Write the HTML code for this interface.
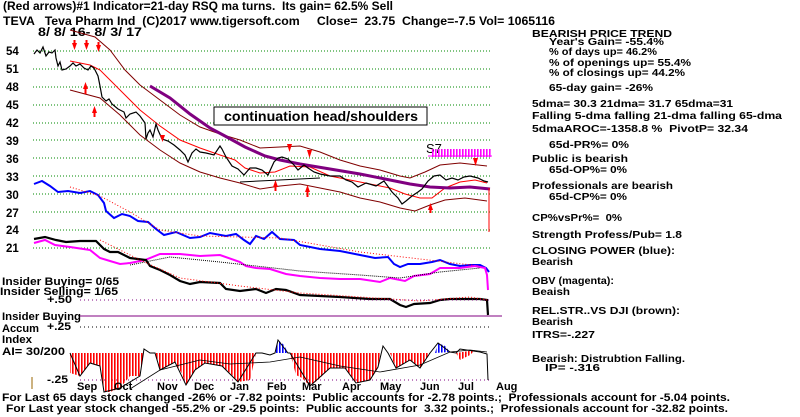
<!DOCTYPE html>
<html><head><meta charset="utf-8"><style>
body{margin:0;background:#fff;}
svg{display:block;font-family:"Liberation Sans",sans-serif;}
text{font-weight:bold;white-space:pre;}
.h{font-size:12px;}
.r{font-size:10.5px;}
.b{font-size:11px;}
</style></head><body>
<svg width="800" height="417" viewBox="0 0 800 417" xmlns="http://www.w3.org/2000/svg" xml:space="preserve">
<defs>
<pattern id="hr" width="3" height="10" patternUnits="userSpaceOnUse"><rect width="1.6" height="10" fill="#f00"/></pattern>
<pattern id="hb" width="3" height="10" patternUnits="userSpaceOnUse"><rect width="1.6" height="10" fill="#00f"/></pattern>
<pattern id="hm" width="3" height="10" patternUnits="userSpaceOnUse"><rect width="1.6" height="10" fill="#f0f"/></pattern>
</defs>
<rect width="800" height="417" fill="#fff"/>
<text x="3" y="10" class="h" textLength="390" lengthAdjust="spacingAndGlyphs">(Red arrows)#1 Indicator=21-day RSQ ma turns.  Its gain= 62.5% Sell</text>
<text x="3" y="25" class="h" textLength="552" lengthAdjust="spacingAndGlyphs">TEVA   Teva Pharm Ind  (C)2017 www.tigersoft.com     Close=  23.75  Change=-7.5 Vol= 1065116</text>
<text x="38" y="36" class="h" textLength="104" lengthAdjust="spacingAndGlyphs">8/ 8/ 16- 8/ 3/ 17</text>
<g font-size="11.5">
<text x="6" y="55">54</text><text x="6" y="73">51</text><text x="6" y="91">48</text><text x="6" y="109">45</text><text x="6" y="127">42</text><text x="6" y="145">39</text><text x="6" y="163">36</text><text x="6" y="181">33</text><text x="6" y="199">30</text><text x="6" y="217">27</text><text x="6" y="234">24</text><text x="6" y="252">21</text>
</g>
<g stroke="#080" stroke-width="1" stroke-dasharray="1,2">
<line x1="33" y1="51" x2="490" y2="51"/><line x1="33" y1="69" x2="490" y2="69"/><line x1="33" y1="87" x2="490" y2="87"/><line x1="33" y1="105" x2="490" y2="105"/><line x1="33" y1="123" x2="490" y2="123"/><line x1="33" y1="140" x2="490" y2="140"/><line x1="33" y1="158" x2="490" y2="158"/><line x1="33" y1="176" x2="490" y2="176"/><line x1="33" y1="194" x2="490" y2="194"/><line x1="33" y1="212" x2="490" y2="212"/><line x1="33" y1="230" x2="490" y2="230"/><line x1="33" y1="248" x2="490" y2="248"/>
</g>
<polyline fill="none" stroke="#800000" stroke-width="1" points="70,30 95,37 110,50 125,70 140,85 160,100 180,115 200,127 220,134 240,140 260,148 280,147 300,146 320,152 340,160 360,166 380,170 400,176 410,178 425,172 440,165 460,163 487,166"/>
<polyline fill="none" stroke="#800000" stroke-width="1" points="70,90 100,98 120,115 140,135 160,150 180,163 200,172 220,178 240,183 260,189 280,186 300,184 320,188 340,192 360,198 380,202 400,208 415,211 430,205 445,200 465,198 487,201"/>
<polyline fill="none" stroke="#f00" stroke-width="1" points="70,61 90,65 100,70 110,80 125,95 140,110 160,126 180,140 200,148 220,155 235,160 245,168 260,173 275,172 290,166 310,167 330,176 350,180 370,184 390,188 405,194 420,198 432,198 445,188 460,182 475,180 487,183"/>
<line x1="240" y1="182" x2="320" y2="178" stroke="#000"/>
<polyline fill="none" stroke="#800080" stroke-width="3" points="150,86 170,98 190,114 210,128 225,136 245,147 265,156 280,160 300,164 330,169 360,174 390,180 410,184 430,187 450,188 470,187 490,189"/>
<polyline fill="none" stroke="#000" stroke-width="1.2" points="34,54 37,50 40,53 43,47 46,56 49,52 52,53 55,50 56,58 58,66 60,62 62,70 66,69 70,66 73,63 76,66 80,64 84,68 88,70 91,66 94,68 98,76 100,86 102,97 106,101 109,99 112,104 118,109 124,112 126,118 130,114 136,112 140,116 145,123 146,139 148,133 150,130 153,137 156,124 158,130 162,139 168,141 174,145 180,150 185,155 188,162 192,153 196,149 200,152 206,153 214,155 220,146 222,149 226,157 232,166 238,169 244,175 250,168 256,168 262,170 268,175 274,162 278,158 282,157 288,159 294,165 298,170 304,165 308,168 314,172 320,174 330,176 340,176 346,180 352,182 358,187 366,183 376,186 384,181 392,192 398,198 402,204 406,201 412,196 418,192 422,189 428,181 434,176 440,175 446,180 452,178 458,180 464,177 470,176 478,178 484,181 488,182"/>
<line x1="489" y1="188" x2="489" y2="232" stroke="#f00"/>
<g fill="#f00">
<polygon points="72,43 77,43 74.5,50"/><polygon points="84,43 89,43 86.5,50"/><polygon points="96,45 101,45 98.5,52"/><polygon points="160,135 165,135 162.5,142"/><polygon points="287,144 292,144 289.5,152"/><polygon points="307,150 312,150 309.5,158"/><polygon points="473,158 478,158 475.5,166"/>
<polygon points="83,89 88,89 85.5,82"/><polygon points="92,113 97,113 94.5,106"/><polygon points="273,187 278,187 275.5,180"/><polygon points="305,192 310,192 307.5,185"/><polygon points="428,210 433,210 430.5,203"/>
</g>
<g stroke="#f00" stroke-width="2"><line x1="74.5" y1="40" x2="74.5" y2="45"/><line x1="86.5" y1="40" x2="86.5" y2="45"/><line x1="98.5" y1="42" x2="98.5" y2="47"/><line x1="85.5" y1="87" x2="85.5" y2="94"/><line x1="94.5" y1="111" x2="94.5" y2="117"/><line x1="275.5" y1="185" x2="275.5" y2="191"/><line x1="307.5" y1="190" x2="307.5" y2="197"/><line x1="430.5" y1="208" x2="430.5" y2="213"/></g>
<rect x="214" y="107" width="213" height="18" fill="#fff" stroke="#000"/>
<text x="224" y="121" font-size="13.5" textLength="194" lengthAdjust="spacingAndGlyphs">continuation head/shoulders</text>
<text x="426" y="153" font-size="13" font-weight="normal" style="font-weight:normal">S7</text>
<rect x="431" y="149" width="60" height="8" fill="url(#hm)"/>
<line x1="428" y1="156" x2="492" y2="156" stroke="#f0f"/>
<polyline fill="none" stroke="#00f" stroke-width="2" points="34,184 42,181 50,186 58,192 68,191 80,193 90,191 98,195 104,203 106,211 114,218 122,214 130,216 138,221 148,222 156,229 164,235 176,232 190,238 200,237 210,233 226,236 236,234 244,240 250,244 256,236 264,239 272,232 280,239 294,240 300,245 320,249 340,251 360,255 375,258 388,257 394,264 400,267 408,264 420,264 432,262 440,260 450,264 460,266 470,265 480,265 486,268 489,272"/>
<polyline fill="none" stroke="#f00" stroke-width="1" stroke-dasharray="1,2" points="70,187 100,196 130,212 160,230 200,236 280,238 360,252 420,259 480,266"/>
<polyline fill="none" stroke="#f0f" stroke-width="2" points="34,243 45,240 55,245 70,247 90,250 100,258 110,261 120,264 130,263 145,260 160,254 180,254 200,256 220,255 240,262 246,266 256,268 270,269 286,274 300,276 320,278 340,279 360,279 380,282 390,278 405,281 414,276 430,274 440,268 460,268 475,266 485,268 487,275 488,290"/>
<polyline fill="none" stroke="#000" stroke-width="1" stroke-dasharray="1,1" points="130,265 170,257 220,262 300,271 360,275 400,278 440,272 480,268"/>
<polyline fill="none" stroke="#000" stroke-width="2.2" points="34,239 45,237 56,240 66,242 80,241 96,241 104,249 110,252 118,252 130,258 146,260 150,266 160,270 170,275 180,281 190,284 200,282 220,283 226,289 240,291 256,289 266,293 276,289 286,290 300,295 320,296 340,297 355,298 370,299 390,299 400,305 406,307 414,304 430,303 440,300 450,299 460,299 470,299 480,299 487,300 488,315"/>
<polyline fill="none" stroke="#f00" stroke-width="1" stroke-dasharray="1,2" points="100,240 140,260 180,278 240,286 300,293 360,297 420,301 470,297 487,300"/>
<g class="b">
<text x="2" y="285" textLength="117" lengthAdjust="spacingAndGlyphs">Insider Buying= 0/65</text>
<text x="0" y="295" textLength="118" lengthAdjust="spacingAndGlyphs">Insider Selling= 1/65</text>
<text x="47" y="303" textLength="25" lengthAdjust="spacingAndGlyphs">+.50</text>
<text x="2" y="320" textLength="79" lengthAdjust="spacingAndGlyphs">Insider Buying</text>
<text x="2" y="332" textLength="37" lengthAdjust="spacingAndGlyphs">Accum</text>
<text x="47" y="330" textLength="24" lengthAdjust="spacingAndGlyphs">+.25</text>
<text x="2" y="343" textLength="30" lengthAdjust="spacingAndGlyphs">Index</text>
<text x="2" y="355" textLength="63" lengthAdjust="spacingAndGlyphs">AI= 30/200</text>
<text x="47" y="383" textLength="21" lengthAdjust="spacingAndGlyphs">-.25</text>
</g>
<line x1="80" y1="300" x2="490" y2="300" stroke="#800080" stroke-dasharray="1,3"/>
<line x1="80" y1="316" x2="502" y2="316" stroke="#800080"/>
<line x1="80" y1="327" x2="490" y2="327" stroke="#000" stroke-dasharray="1,3"/>
<line x1="80" y1="380" x2="490" y2="380" stroke="#800080" stroke-dasharray="1,3"/>
<line x1="32" y1="377" x2="32" y2="389" stroke="#960"/>
<path fill="url(#hr)" d="M70,353 L70,373 80,376 90,363 100,366 104,392 110,392 120,388 130,376 140,376 144,353 Z M155,353 L160,370 175,362 182,374 186,385 195,370 205,363 222,366 230,373 238,382 250,380 256,353 Z M290,353 L296,375 302,378 310,386 318,380 330,368 345,368 356,383 370,380 378,367 380,353 Z M390,353 L396,368 410,360 420,368 430,353 Z M456,353 L460,360 470,355 475,350 Z"/>
<path fill="url(#hb)" d="M275,353 L278,340 284,345 288,353 Z M435,353 L438,343 445,346 450,352 Z"/>
<polyline fill="none" stroke="#000" stroke-width="1" points="70,353 80,376 90,363 100,366 104,392 120,388 140,376 144,349 150,353 155,353 160,370 175,362 186,385 195,370 205,363 222,366 238,382 256,353 262,353 270,355 275,353 278,340 288,353 290,353 310,386 330,368 345,368 356,383 370,380 378,367 383,346 388,353 396,368 410,360 420,368 430,353 438,343 450,352 456,353 460,349 480,352 487,354 488,380"/>
<polyline fill="none" stroke="#000" stroke-width="0.8" points="130,389 160,370 200,360 230,364 270,362 300,357 340,366 380,372 420,365 450,352 470,350 487,352"/>
<g class="b" font-size="11.5">
<text x="77" y="390">Sep</text><text x="114" y="390">Oct</text><text x="157" y="390">Nov</text><text x="194" y="390">Dec</text><text x="230" y="390">Jan</text><text x="267" y="390">Feb</text><text x="302" y="390">Mar</text><text x="342" y="390">Apr</text><text x="380" y="390">May</text><text x="420" y="390">Jun</text><text x="458" y="390">Jul</text><text x="496" y="390">Aug</text>
</g>
<text x="2" y="401" class="b" textLength="728" lengthAdjust="spacingAndGlyphs">For Last 65 days stock changed -26% or -7.82 points:  Public accounts for -2.78 points.;  Professionals account for -5.04 points.</text>
<text x="6" y="412" class="b" textLength="722" lengthAdjust="spacingAndGlyphs">For Last year stock changed -55.2% or -29.5 points:  Public accounts for  3.32 points.;  Professionals account for -32.82 points.</text>
<g class="r">
<text x="532" y="37" textLength="140" lengthAdjust="spacingAndGlyphs">BEARISH PRICE TREND</text>
<text x="549" y="45" textLength="115" lengthAdjust="spacingAndGlyphs">Year's Gain= -55.4%</text>
<text x="549" y="55" textLength="108" lengthAdjust="spacingAndGlyphs">% of days up= 46.2%</text>
<text x="549" y="66" textLength="142" lengthAdjust="spacingAndGlyphs">% of openings up= 55.4%</text>
<text x="549" y="76" textLength="136" lengthAdjust="spacingAndGlyphs">% of closings up= 44.2%</text>
<text x="549" y="91" textLength="104" lengthAdjust="spacingAndGlyphs">65-day gain= -26%</text>
<text x="532" y="107" textLength="201" lengthAdjust="spacingAndGlyphs">5dma= 30.3 21dma= 31.7 65dma=31</text>
<text x="532" y="119" textLength="250" lengthAdjust="spacingAndGlyphs">Falling 5-dma falling 21-dma falling 65-dma</text>
<text x="532" y="132" textLength="216" lengthAdjust="spacingAndGlyphs">5dmaAROC=-1358.8 %  PivotP= 32.34</text>
<text x="549" y="148" textLength="80" lengthAdjust="spacingAndGlyphs">65d-PR%= 0%</text>
<text x="532" y="162" textLength="96" lengthAdjust="spacingAndGlyphs">Public is bearish</text>
<text x="549" y="173" textLength="78" lengthAdjust="spacingAndGlyphs">65d-OP%= 0%</text>
<text x="532" y="189" textLength="141" lengthAdjust="spacingAndGlyphs">Professionals are bearish</text>
<text x="549" y="200" textLength="78" lengthAdjust="spacingAndGlyphs">65d-CP%= 0%</text>
<text x="532" y="221" textLength="90" lengthAdjust="spacingAndGlyphs">CP%vsPr%=  0%</text>
<text x="532" y="238" textLength="150" lengthAdjust="spacingAndGlyphs">Strength Profess/Pub= 1.8</text>
<text x="532" y="254" textLength="143" lengthAdjust="spacingAndGlyphs">CLOSING POWER (blue):</text>
<text x="532" y="265" textLength="41" lengthAdjust="spacingAndGlyphs">Bearish</text>
<text x="532" y="284" textLength="82" lengthAdjust="spacingAndGlyphs">OBV (magenta):</text>
<text x="532" y="295" textLength="38" lengthAdjust="spacingAndGlyphs">Beaish</text>
<text x="532" y="314" textLength="148" lengthAdjust="spacingAndGlyphs">REL.STR..VS DJI (brown):</text>
<text x="532" y="325" textLength="41" lengthAdjust="spacingAndGlyphs">Bearish</text>
<text x="532" y="338" textLength="63" lengthAdjust="spacingAndGlyphs">ITRS=-.227</text>
<text x="532" y="362" textLength="153" lengthAdjust="spacingAndGlyphs">Bearish: Distrubtion Falling.</text>
<text x="545" y="371" textLength="55" lengthAdjust="spacingAndGlyphs">IP= -.316</text>
</g>
</svg>
</body></html>
